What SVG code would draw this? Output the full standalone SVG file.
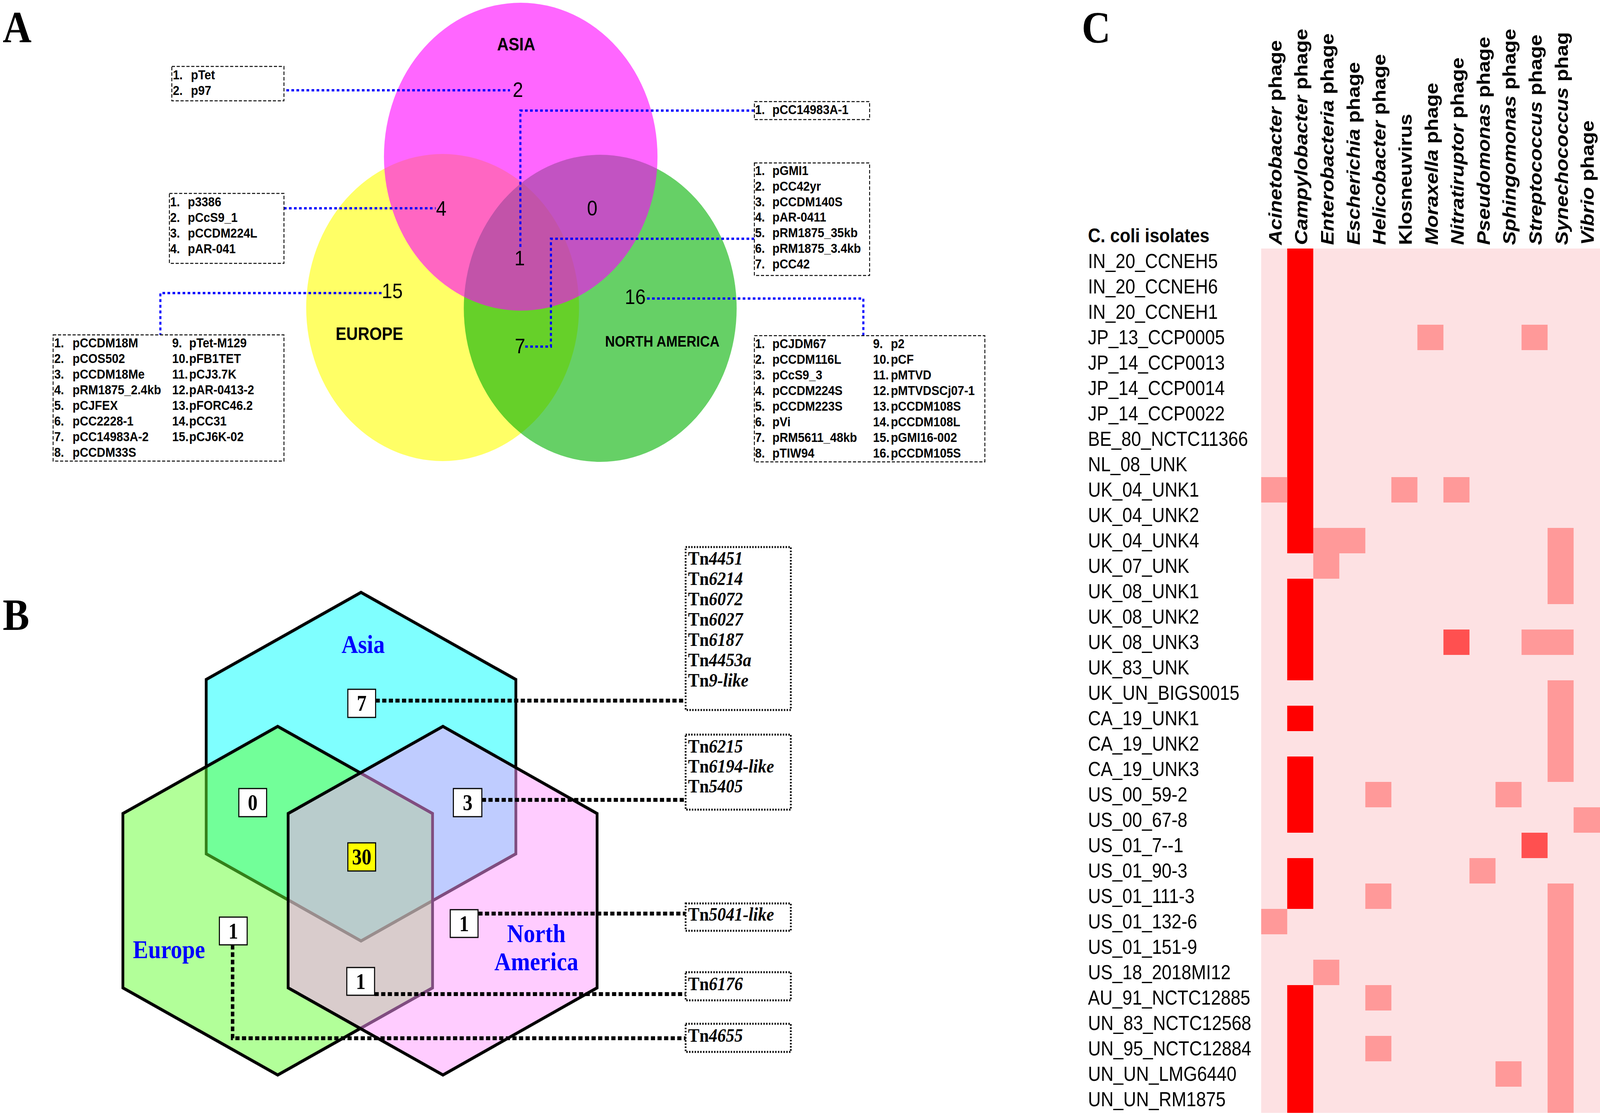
<svg xmlns="http://www.w3.org/2000/svg" width="4609" height="2856" viewBox="0 0 4609 2856" preserveAspectRatio="none">
<style>
svg{width:100vw;height:100vh}
.pl{font-family:"Liberation Serif","Times New Roman",serif;font-weight:bold;font-size:115px}
.lst{font-family:"Liberation Sans",Arial,sans-serif;font-weight:bold;font-size:34px}
.num{font-family:"Liberation Sans",Arial,sans-serif;font-size:54px;text-anchor:middle}
.reg{font-family:"Liberation Sans",Arial,sans-serif;font-weight:bold;font-size:46px}
.reg2{font-family:"Liberation Sans",Arial,sans-serif;font-weight:bold;font-size:39px}
.abox{fill:none;stroke:#000;stroke-width:2.5;stroke-dasharray:9 5}
.bl{fill:none;stroke:#0000FF;stroke-width:6;stroke-dasharray:7.5 7}
.hex{stroke:#000;stroke-width:8;stroke-linejoin:miter;fill-opacity:0.5}
.bn{fill:#fff;stroke:#000;stroke-width:3}
.bny{fill:#FFFF00;stroke:#000;stroke-width:3}
.bt{font-family:"Liberation Serif","Times New Roman",serif;font-weight:bold;font-size:56px;text-anchor:middle}
.blab{font-family:"Liberation Serif","Times New Roman",serif;font-weight:bold;font-size:66px;fill:#0000FF}
.tn{font-family:"Liberation Serif","Times New Roman",serif;font-weight:bold;font-size:49px}
.tbox{fill:none;stroke:#000;stroke-width:5;stroke-dasharray:4 4}
.bk{fill:none;stroke:#000;stroke-width:10;stroke-dasharray:12 7}
.row{font-family:"Liberation Sans",Arial,sans-serif;font-size:51px}
.rowh{font-family:"Liberation Sans",Arial,sans-serif;font-size:50px;font-weight:bold}
.hd{font-family:"Liberation Sans",Arial,sans-serif;font-weight:bold;font-size:53px}
.it{font-style:italic}
.bg{fill:#FDE1E3}
.r{fill:#FF0000}
.m{fill:#FF9999}
.d{fill:#FF5050}
</style>
<rect width="4609" height="2856" fill="#fff"/>

<!-- Panel labels -->
<text class="pl" x="8" y="108">A</text>
<text class="pl" x="8" y="1612">B</text>
<text class="pl" x="3116" y="109">C</text>

<!-- ===== Panel A ===== -->
<g id="venn-a">
  <g id="europe"><circle cx="1275" cy="787" r="393" fill="#FFFF00" fill-opacity="0.6"/></g>
  <g id="north-america"><circle cx="1729" cy="789" r="393" fill="#00B000" fill-opacity="0.6"/></g>
  <g id="asia"><circle cx="1500" cy="401" r="394" fill="#FF00FF" fill-opacity="0.6"/></g>
  <text class="reg" x="1432" y="129">ASIA</text>
  <text class="reg" x="967" y="870">EUROPE</text>
  <text class="reg2" x="1743" y="887">NORTH AMERICA</text>
  <text class="num" x="1492" y="248">2</text>
  <text class="num" x="1271" y="552">4</text>
  <text class="num" x="1706" y="551">0</text>
  <text class="num" x="1497" y="679">1</text>
  <text class="num" x="1130" y="763">15</text>
  <text class="num" x="1830" y="778">16</text>
  <text class="num" x="1498" y="904">7</text>
</g>

<g id="connectors-a">
  <path class="bl" d="M825,231 H1469"/>
  <path class="bl" d="M818,533 H1255"/>
  <path class="bl" d="M1499,632 V283 H2173"/>
  <path class="bl" d="M1513,887 H1587 V611 H2173"/>
  <path class="bl" d="M1099,750 H462 V857"/>
  <path class="bl" d="M1864,764 H2487 V859"/>
</g>

<g id="box-asia">
  <rect class="abox" x="495" y="170" width="323" height="88"/>
  <text class="lst" x="498" y="203">1.</text><text class="lst" x="550" y="203">pTet</text>
  <text class="lst" x="498" y="243">2.</text><text class="lst" x="550" y="243">p97</text>
</g>
<g id="box-asia-europe">
  <rect class="abox" x="488" y="495" width="330" height="179"/>
  <text class="lst" x="490" y="528">1.</text><text class="lst" x="541" y="528">p3386</text>
  <text class="lst" x="490" y="568">2.</text><text class="lst" x="541" y="568">pCcS9_1</text>
  <text class="lst" x="490" y="608">3.</text><text class="lst" x="541" y="608">pCCDM224L</text>
  <text class="lst" x="490" y="648">4.</text><text class="lst" x="541" y="648">pAR-041</text>
</g>
<g id="box-all">
  <rect class="abox" x="2173" y="260" width="332" height="46"/>
  <text class="lst" x="2175" y="292">1.</text><text class="lst" x="2225" y="292">pCC14983A-1</text>
</g>
<g id="box-europe-na">
  <rect class="abox" x="2173" y="417" width="332" height="288"/>
  <text class="lst" x="2175" y="448">1.</text><text class="lst" x="2225" y="448">pGMI1</text>
  <text class="lst" x="2175" y="488">2.</text><text class="lst" x="2225" y="488">pCC42yr</text>
  <text class="lst" x="2175" y="528">3.</text><text class="lst" x="2225" y="528">pCCDM140S</text>
  <text class="lst" x="2175" y="567">4.</text><text class="lst" x="2225" y="567">pAR-0411</text>
  <text class="lst" x="2175" y="607">5.</text><text class="lst" x="2225" y="607">pRM1875_35kb</text>
  <text class="lst" x="2175" y="647">6.</text><text class="lst" x="2225" y="647">pRM1875_3.4kb</text>
  <text class="lst" x="2175" y="687">7.</text><text class="lst" x="2225" y="687">pCC42</text>
</g>
<g id="box-europe">
  <rect class="abox" x="153" y="857" width="665" height="323"/>
  <text class="lst" x="156" y="889">1.</text><text class="lst" x="209" y="889">pCCDM18M</text>
  <text class="lst" x="156" y="929">2.</text><text class="lst" x="209" y="929">pCOS502</text>
  <text class="lst" x="156" y="969">3.</text><text class="lst" x="209" y="969">pCCDM18Me</text>
  <text class="lst" x="156" y="1009">4.</text><text class="lst" x="209" y="1009">pRM1875_2.4kb</text>
  <text class="lst" x="156" y="1049">5.</text><text class="lst" x="209" y="1049">pCJFEX</text>
  <text class="lst" x="156" y="1089">6.</text><text class="lst" x="209" y="1089">pCC2228-1</text>
  <text class="lst" x="156" y="1129">7.</text><text class="lst" x="209" y="1129">pCC14983A-2</text>
  <text class="lst" x="156" y="1169">8.</text><text class="lst" x="209" y="1169">pCCDM33S</text>
  <text class="lst" x="496" y="889">9.</text><text class="lst" x="545" y="889">pTet-M129</text>
  <text class="lst" x="496" y="929">10.</text><text class="lst" x="545" y="929">pFB1TET</text>
  <text class="lst" x="496" y="969">11.</text><text class="lst" x="545" y="969">pCJ3.7K</text>
  <text class="lst" x="496" y="1009">12.</text><text class="lst" x="545" y="1009">pAR-0413-2</text>
  <text class="lst" x="496" y="1049">13.</text><text class="lst" x="545" y="1049">pFORC46.2</text>
  <text class="lst" x="496" y="1089">14.</text><text class="lst" x="545" y="1089">pCC31</text>
  <text class="lst" x="496" y="1129">15.</text><text class="lst" x="545" y="1129">pCJ6K-02</text>
</g>
<g id="box-na">
  <rect class="abox" x="2173" y="859" width="664" height="323"/>
  <text class="lst" x="2175" y="891">1.</text><text class="lst" x="2225" y="891">pCJDM67</text>
  <text class="lst" x="2175" y="931">2.</text><text class="lst" x="2225" y="931">pCCDM116L</text>
  <text class="lst" x="2175" y="971">3.</text><text class="lst" x="2225" y="971">pCcS9_3</text>
  <text class="lst" x="2175" y="1011">4.</text><text class="lst" x="2225" y="1011">pCCDM224S</text>
  <text class="lst" x="2175" y="1051">5.</text><text class="lst" x="2225" y="1051">pCCDM223S</text>
  <text class="lst" x="2175" y="1091">6.</text><text class="lst" x="2225" y="1091">pVi</text>
  <text class="lst" x="2175" y="1131">7.</text><text class="lst" x="2225" y="1131">pRM5611_48kb</text>
  <text class="lst" x="2175" y="1171">8.</text><text class="lst" x="2225" y="1171">pTIW94</text>
  <text class="lst" x="2515" y="891">9.</text><text class="lst" x="2566" y="891">p2</text>
  <text class="lst" x="2515" y="931">10.</text><text class="lst" x="2566" y="931">pCF</text>
  <text class="lst" x="2515" y="971">11.</text><text class="lst" x="2566" y="971">pMTVD</text>
  <text class="lst" x="2515" y="1011">12.</text><text class="lst" x="2566" y="1011">pMTVDSCj07-1</text>
  <text class="lst" x="2515" y="1051">13.</text><text class="lst" x="2566" y="1051">pCCDM108S</text>
  <text class="lst" x="2515" y="1091">14.</text><text class="lst" x="2566" y="1091">pCCDM108L</text>
  <text class="lst" x="2515" y="1131">15.</text><text class="lst" x="2566" y="1131">pGMI16-002</text>
  <text class="lst" x="2515" y="1171">16.</text><text class="lst" x="2566" y="1171">pCCDM105S</text>
</g>

<!-- ===== Panel B ===== -->
<g id="venn-b">
  <g id="hex-asia"><polygon class="hex" fill="#00FFFF" points="1040,1516 1486,1739 1486,2185 1040,2408 594,2185 594,1739"/></g>
  <g id="hex-europe"><polygon class="hex" fill="#66FF33" points="800,1859 1246,2082 1246,2528 800,2751 354,2528 354,2082"/></g>
  <g id="hex-na"><polygon class="hex" fill="#FF99FF" points="1276,1859 1720,2082 1720,2528 1276,2751 830,2528 830,2082"/></g>
  <text class="blab" x="1046" y="1671" text-anchor="middle">Asia</text>
  <text class="blab" x="383" y="2452">Europe</text>
  <text class="blab" x="1545" y="2411" text-anchor="middle">North</text>
  <text class="blab" x="1545" y="2483" text-anchor="middle">America</text>
</g>

<g id="connectors-b">
  <path class="bk" d="M1082,1793 H1975"/>
  <path class="bk" d="M1388,2047 H1975"/>
  <path class="bk" d="M1378,2338 H1975"/>
  <path class="bk" d="M1079,2544 H1975"/>
  <path class="bk" d="M670,2418 V2657 H1975"/>
</g>

<g id="n-asia"><rect class="bn" x="1002" y="1764" width="80" height="72"/><text class="bt" x="1042" y="1819">7</text></g>
<g id="n-asia-europe"><rect class="bn" x="688" y="2018" width="80" height="72"/><text class="bt" x="728" y="2073">0</text></g>
<g id="n-asia-na"><rect class="bn" x="1306" y="2018" width="82" height="72"/><text class="bt" x="1347" y="2073">3</text></g>
<g id="n-all"><rect class="bny" x="1002" y="2157" width="80" height="72"/><text class="bt" x="1042" y="2212">30</text></g>
<g id="n-europe"><rect class="bn" x="632" y="2347" width="80" height="71"/><text class="bt" x="672" y="2402">1</text></g>
<g id="n-na"><rect class="bn" x="1297" y="2328" width="80" height="71"/><text class="bt" x="1337" y="2383">1</text></g>
<g id="n-europe-na"><rect class="bn" x="999" y="2476" width="80" height="71"/><text class="bt" x="1039" y="2531">1</text></g>

<g id="tn-asia">
  <rect class="tbox" x="1975" y="1400" width="303" height="417"/>
  <text class="tn" x="1982" y="1445">Tn<tspan class="it">4451</tspan></text>
  <text class="tn" x="1982" y="1497">Tn<tspan class="it">6214</tspan></text>
  <text class="tn" x="1982" y="1549">Tn<tspan class="it">6072</tspan></text>
  <text class="tn" x="1982" y="1601">Tn<tspan class="it">6027</tspan></text>
  <text class="tn" x="1982" y="1653">Tn<tspan class="it">6187</tspan></text>
  <text class="tn" x="1982" y="1705">Tn<tspan class="it">4453a</tspan></text>
  <text class="tn" x="1982" y="1757">Tn<tspan class="it">9-like</tspan></text>
</g>
<g id="tn-asia-na">
  <rect class="tbox" x="1975" y="1880" width="303" height="192"/>
  <text class="tn" x="1982" y="1926">Tn<tspan class="it">6215</tspan></text>
  <text class="tn" x="1982" y="1977">Tn<tspan class="it">6194-like</tspan></text>
  <text class="tn" x="1982" y="2028">Tn<tspan class="it">5405</tspan></text>
</g>
<g id="tn-na">
  <rect class="tbox" x="1975" y="2312" width="303" height="70"/>
  <text class="tn" x="1982" y="2356">Tn<tspan class="it">5041-like</tspan></text>
</g>
<g id="tn-europe-na">
  <rect class="tbox" x="1975" y="2488" width="303" height="72"/>
  <text class="tn" x="1982" y="2534">Tn<tspan class="it">6176</tspan></text>
</g>
<g id="tn-europe">
  <rect class="tbox" x="1975" y="2620" width="303" height="72"/>
  <text class="tn" x="1982" y="2666">Tn<tspan class="it">4655</tspan></text>
</g>

<!-- ===== Panel C ===== -->
<g id="heatmap-headers">
  <text class="hd" transform="translate(3691.5,627) rotate(-90)"><tspan class="it">Acinetobacter</tspan> phage</text>
  <text class="hd" transform="translate(3766.5,627) rotate(-90)"><tspan class="it">Campylobacter</tspan> phage</text>
  <text class="hd" transform="translate(3841.5,627) rotate(-90)"><tspan class="it">Enterobacteria</tspan> phage</text>
  <text class="hd" transform="translate(3916.5,627) rotate(-90)"><tspan class="it">Escherichia</tspan> phage</text>
  <text class="hd" transform="translate(3991.5,627) rotate(-90)"><tspan class="it">Helicobacter</tspan> phage</text>
  <text class="hd" transform="translate(4066.5,627) rotate(-90)">Klosneuvirus</text>
  <text class="hd" transform="translate(4141.5,627) rotate(-90)"><tspan class="it">Moraxella</tspan> phage</text>
  <text class="hd" transform="translate(4216.5,627) rotate(-90)"><tspan class="it">Nitratiruptor</tspan> phage</text>
  <text class="hd" transform="translate(4291.5,627) rotate(-90)"><tspan class="it">Pseudomonas</tspan> phage</text>
  <text class="hd" transform="translate(4366.5,627) rotate(-90)"><tspan class="it">Sphingomonas</tspan> phage</text>
  <text class="hd" transform="translate(4441.5,627) rotate(-90)"><tspan class="it">Streptococcus</tspan> phage</text>
  <text class="hd" transform="translate(4516.5,627) rotate(-90)"><tspan class="it">Synechococcus</tspan> phag</text>
  <text class="hd" transform="translate(4591.5,627) rotate(-90)"><tspan class="it">Vibrio</tspan> phage</text>
</g>

<g id="heatmap-rows">
  <text class="rowh" x="3134" y="620">C. coli isolates</text>
  <text class="row" x="3134" y="686">IN_20_CCNEH5</text>
  <text class="row" x="3134" y="751">IN_20_CCNEH6</text>
  <text class="row" x="3134" y="816">IN_20_CCNEH1</text>
  <text class="row" x="3134" y="881">JP_13_CCP0005</text>
  <text class="row" x="3134" y="946">JP_14_CCP0013</text>
  <text class="row" x="3134" y="1011">JP_14_CCP0014</text>
  <text class="row" x="3134" y="1076">JP_14_CCP0022</text>
  <text class="row" x="3134" y="1141">BE_80_NCTC11366</text>
  <text class="row" x="3134" y="1206">NL_08_UNK</text>
  <text class="row" x="3134" y="1271">UK_04_UNK1</text>
  <text class="row" x="3134" y="1336">UK_04_UNK2</text>
  <text class="row" x="3134" y="1401">UK_04_UNK4</text>
  <text class="row" x="3134" y="1466">UK_07_UNK</text>
  <text class="row" x="3134" y="1531">UK_08_UNK1</text>
  <text class="row" x="3134" y="1596">UK_08_UNK2</text>
  <text class="row" x="3134" y="1661">UK_08_UNK3</text>
  <text class="row" x="3134" y="1726">UK_83_UNK</text>
  <text class="row" x="3134" y="1791">UK_UN_BIGS0015</text>
  <text class="row" x="3134" y="1856">CA_19_UNK1</text>
  <text class="row" x="3134" y="1921">CA_19_UNK2</text>
  <text class="row" x="3134" y="1986">CA_19_UNK3</text>
  <text class="row" x="3134" y="2051">US_00_59-2</text>
  <text class="row" x="3134" y="2116">US_00_67-8</text>
  <text class="row" x="3134" y="2181">US_01_7--1</text>
  <text class="row" x="3134" y="2246">US_01_90-3</text>
  <text class="row" x="3134" y="2311">US_01_111-3</text>
  <text class="row" x="3134" y="2376">US_01_132-6</text>
  <text class="row" x="3134" y="2441">US_01_151-9</text>
  <text class="row" x="3134" y="2506">US_18_2018MI12</text>
  <text class="row" x="3134" y="2571">AU_91_NCTC12885</text>
  <text class="row" x="3134" y="2636">UN_83_NCTC12568</text>
  <text class="row" x="3134" y="2701">UN_95_NCTC12884</text>
  <text class="row" x="3134" y="2766">UN_UN_LMG6440</text>
  <text class="row" x="3134" y="2831">UN_UN_RM1875</text>
</g>

<g id="heatmap-cells">
  <rect class="bg" x="3633" y="636" width="976" height="2212"/>
  <rect class="r" x="3708" y="636" width="75" height="780"/>
  <rect class="r" x="3708" y="1481" width="75" height="260"/>
  <rect class="r" x="3708" y="1806" width="75" height="65"/>
  <rect class="r" x="3708" y="1936" width="75" height="195"/>
  <rect class="r" x="3708" y="2196" width="75" height="130"/>
  <rect class="r" x="3708" y="2521" width="75" height="327"/>
  <rect class="m" x="4083" y="831" width="75" height="65"/>
  <rect class="m" x="4383" y="831" width="75" height="65"/>
  <rect class="m" x="3633" y="1221" width="75" height="65"/>
  <rect class="m" x="4008" y="1221" width="75" height="65"/>
  <rect class="m" x="4158" y="1221" width="75" height="65"/>
  <rect class="m" x="3783" y="1351" width="150" height="65"/>
  <rect class="m" x="3783" y="1416" width="75" height="65"/>
  <rect class="m" x="4458" y="1351" width="75" height="195"/>
  <rect class="d" x="4158" y="1611" width="75" height="65"/>
  <rect class="m" x="4383" y="1611" width="150" height="65"/>
  <rect class="m" x="4458" y="1741" width="75" height="260"/>
  <rect class="m" x="3933" y="2001" width="75" height="65"/>
  <rect class="m" x="4308" y="2001" width="75" height="65"/>
  <rect class="m" x="4533" y="2066" width="76" height="65"/>
  <rect class="d" x="4383" y="2131" width="75" height="65"/>
  <rect class="m" x="4233" y="2196" width="75" height="65"/>
  <rect class="m" x="3933" y="2261" width="75" height="65"/>
  <rect class="m" x="4458" y="2261" width="75" height="587"/>
  <rect class="m" x="3633" y="2326" width="75" height="65"/>
  <rect class="m" x="3783" y="2456" width="75" height="65"/>
  <rect class="m" x="3933" y="2521" width="75" height="65"/>
  <rect class="m" x="3933" y="2651" width="75" height="65"/>
  <rect class="m" x="4308" y="2716" width="75" height="65"/>
</g>
</svg>
